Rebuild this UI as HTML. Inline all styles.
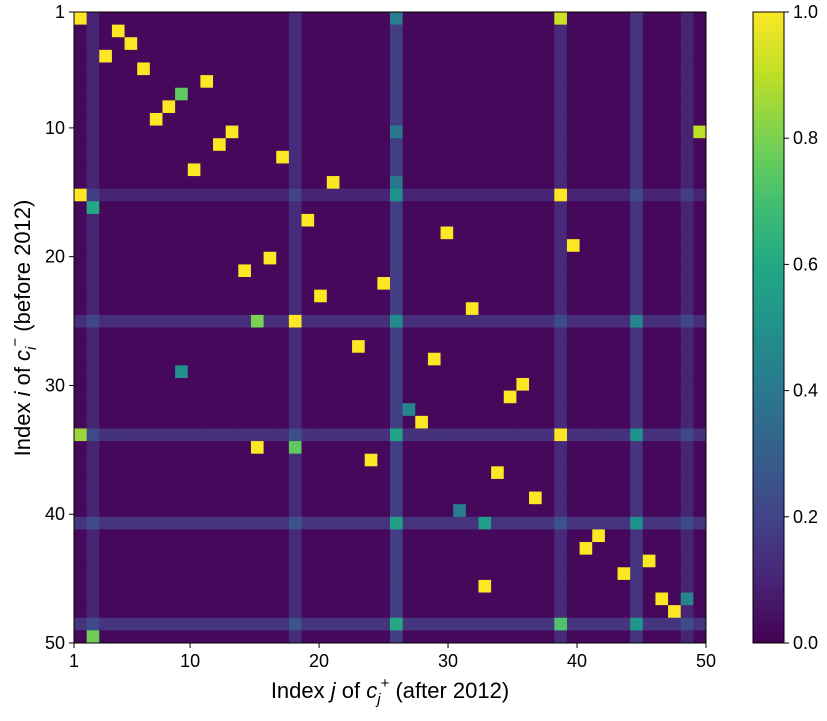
<!DOCTYPE html>
<html><head><meta charset="utf-8"><style>
body{margin:0;background:#fff;}
svg text{font-family:"Liberation Sans","DejaVu Sans",sans-serif;fill:#000;}
</style></head><body>
<svg id="chart" width="827" height="716" xmlns="http://www.w3.org/2000/svg">
<defs><linearGradient id="vg" x1="0" y1="1" x2="0" y2="0">
<stop offset="0" stop-color="#440154"/><stop offset="0.1" stop-color="#482475"/><stop offset="0.2" stop-color="#414487"/><stop offset="0.3" stop-color="#355f8d"/><stop offset="0.4" stop-color="#2a788e"/><stop offset="0.5" stop-color="#21918c"/><stop offset="0.6" stop-color="#22a884"/><stop offset="0.7" stop-color="#44bf70"/><stop offset="0.8" stop-color="#7ad151"/><stop offset="0.9" stop-color="#bddf26"/><stop offset="1" stop-color="#fde725"/></linearGradient></defs>
<g id="cells"></g>
<rect x="74" y="12" width="632" height="631" fill="none" stroke="#000" stroke-width="1"/>
<g id="axes"></g>
<text x="390" y="698" font-size="22" text-anchor="middle">Index <tspan font-style="italic">j</tspan> of <tspan font-style="italic">c</tspan><tspan font-size="15" dy="6" font-style="italic">j</tspan><tspan font-size="15" dy="-16">+</tspan><tspan dy="10"> (after 2012)</tspan></text>
<text transform="translate(30,328) rotate(-90)" font-size="22" text-anchor="middle">Index <tspan font-style="italic">i</tspan> of <tspan font-style="italic">c</tspan><tspan font-size="15" dy="6" font-style="italic">i</tspan><tspan font-size="15" dy="-16">−</tspan><tspan dy="10"> (before 2012)</tspan></text>
<rect x="753" y="12" width="31" height="631" fill="url(#vg)" stroke="#000" stroke-width="1"/>
<g id="cbar"></g>
</svg>
<script>
const N = 50;
const baseValue = 0.02;
const stripeCols = [2, 18, 26, 39, 45, 49];
const stripeColValues = [0.08, 0.1, 0.16, 0.1, 0.13, 0.08];
const stripeRows = [15, 25, 34, 41, 49];
const stripeRowValues = [0.08, 0.11, 0.12, 0.13, 0.13];
const hiRows = [1,1,2,3,4,5,6,7,8,9,10,10,11,12,13,14,15,15,16,17,18,19,20,21,22,23,24,25,25,27,28,29,30,31,32,33,34,34,35,35,36,37,39,40,41,42,43,44,45,46,47,48,47,50,49,10,14,1,15,25,34,41,49,34,41,49,25];
const hiCols = [1,39,4,5,3,6,11,9,8,7,50,13,12,17,10,21,1,39,2,19,30,40,16,14,25,20,32,18,15,23,29,9,36,35,27,28,1,39,15,18,24,34,37,31,33,42,41,46,44,33,47,48,49,2,39,26,26,26,26,26,26,26,26,45,45,45,45];
const hiValues = [1,0.92,1,1,1,1,1,0.75,1,1,0.9,1,1,1,1,1,1,1,0.6,1,1,1,1,1,1,1,1,1,0.8,1,1,0.5,1,1,0.45,1,0.85,1,1,0.75,1,1,1,0.42,0.55,1,1,1,1,1,1,1,0.45,0.78,0.72,0.4,0.4,0.42,0.5,0.48,0.58,0.56,0.6,0.5,0.5,0.52,0.46];
const xTicks = [1,10,20,30,40,50];
const yTicks = [1,10,20,30,40,50];
const cbTicks = [0,0.2,0.4,0.6,0.8,1.0];

const X0=74,X1=706,Y0=12,Y1=643;
const cw=(X1-X0)/N, ch=(Y1-Y0)/N;
const xTick=v=>X0+(v-1)*(X1-X0)/(N-1);
const yTick=v=>Y0+(v-1)*(Y1-Y0)/(N-1);
const cbY=v=>Y1-v*(Y1-Y0);
const stops=[[68,1,84],[72,36,117],[65,68,135],[53,95,141],[42,120,142],[33,145,140],[34,168,132],[68,191,112],[122,209,81],[189,223,38],[253,231,37]];
function viridis(v){v=Math.max(0,Math.min(1,v));const t=v*10,i=Math.min(9,Math.floor(t)),f=t-i;const a=stops[i],b=stops[i+1];return `rgb(${a.map((c,k)=>Math.round(c+(b[k]-c)*f)).join(',')})`;}
const NS='http://www.w3.org/2000/svg';
const M=[];
for(let r=1;r<=N;r++){M[r]=[];for(let c=1;c<=N;c++){let v=baseValue;const ci=stripeCols.indexOf(c),ri=stripeRows.indexOf(r);if(ci>=0)v+=stripeColValues[ci];if(ri>=0)v+=stripeRowValues[ri];M[r][c]=v;}}
hiRows.forEach((r,k)=>{M[r][hiCols[k]]=hiValues[k];});
const g=document.getElementById('cells');
for(let r=1;r<=N;r++)for(let c=1;c<=N;c++){
const el=document.createElementNS(NS,'rect');


el.setAttribute('x',X0+(c-1)*cw);el.setAttribute('y',Y0+(r-1)*ch);
el.setAttribute('width',cw+0.4);el.setAttribute('height',ch+0.4);
el.setAttribute('fill',viridis(M[r][c]));g.appendChild(el);}
const ax=document.getElementById('axes');
function add(tag,attrs,txt){const e=document.createElementNS(NS,tag);for(const k in attrs)e.setAttribute(k,attrs[k]);if(txt!==undefined)e.textContent=txt;return e;}
xTicks.forEach(v=>{const x=xTick(v);
ax.appendChild(add('line',{x1:x,x2:x,y1:Y1,y2:Y1+5,stroke:'#000'}));
const t=add('text',{x:x,y:Y1+24,'font-size':18,'text-anchor':'middle'},v);


ax.appendChild(t);});
yTicks.forEach(v=>{const y=yTick(v);
ax.appendChild(add('line',{x1:X0-5,x2:X0,y1:y,y2:y,stroke:'#000'}));
const t=add('text',{x:X0-9,y:y+6,'font-size':18,'text-anchor':'end'},v);


ax.appendChild(t);});
const cb=document.getElementById('cbar');
cbTicks.forEach(v=>{const y=cbY(v);
cb.appendChild(add('line',{x1:784,x2:789,y1:y,y2:y,stroke:'#000'}));
const t=add('text',{x:793,y:y+6,'font-size':18},v.toFixed(1));


cb.appendChild(t);});
</script>
</body></html>
